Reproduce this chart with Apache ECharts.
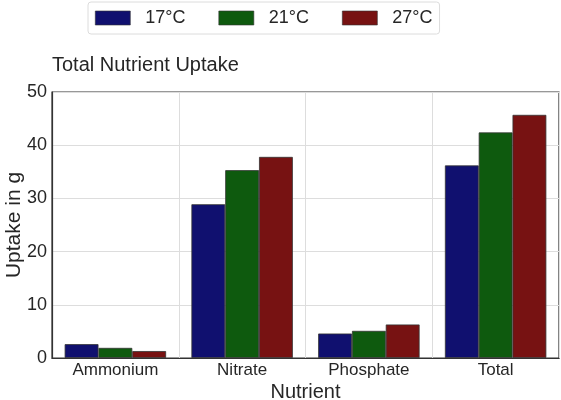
<!DOCTYPE html>
<html><head><meta charset="utf-8">
<script src="https://cdn.jsdelivr.net/npm/echarts@6/dist/echarts.min.js"></script>
<style>html,body{margin:0;padding:0;background:#fff}#c{width:561px;height:400px}</style>
</head><body><div id="c"></div>
<script>
var categories = ['Ammonium', 'Nitrate', 'Phosphate', 'Total'];
var seriesNames = ['17°C', '21°C', '27°C'];
var v17 = [2.6, 28.9, 4.6, 36.2];
var v21 = [1.9, 35.3, 5.1, 42.4];
var v27 = [1.3, 37.8, 6.3, 45.7];
var yTicks = [0, 10, 20, 30, 40, 50];
var colors = ['#10106f', '#0e5a0e', '#771212'];
var values = [v17, v21, v27];
var font = 'Liberation Sans, Arial, sans-serif';

var chart = echarts.init(document.getElementById('c'), null, {renderer: 'canvas'});
chart.setOption({
  animation: false,
  textStyle: {fontFamily: font},
  title: {text: 'Total Nutrient Uptake', left: 52, top: 55, padding: 0,
    textStyle: {fontFamily: font, fontSize: 20, fontWeight: 'normal', color: '#262626'}},
  legend: {
    top: 2, left: 88,
    data: seriesNames,
    icon: 'rect',
    itemWidth: 35, itemHeight: 14, itemGap: 33,
    padding: [7, 7, 7, 7],
    borderColor: '#dcdcdc', borderWidth: 1, borderRadius: 3,
    itemStyle: {borderColor: '#333', borderWidth: 0.6},
    textStyle: {fontFamily: font, fontSize: 18, color: '#262626', padding: [0, 0, 0, 10]}
  },
  grid: {left: 52, right: 2, top: 92, bottom: 42, containLabel: false, outerBoundsMode: 'none',
    show: true, borderColor: '#333', borderWidth: 1.2},
  xAxis: {
    type: 'category', data: categories,
    name: 'Nutrient', nameLocation: 'middle', nameGap: 24, nameMoveOverlap: false,
    nameTextStyle: {fontFamily: font, fontSize: 20, color: '#262626'},
    axisLine: {show: true, lineStyle: {color: '#333', width: 1.2}},
    axisTick: {show: false},
    axisLabel: {fontFamily: font, fontSize: 17, color: '#262626', margin: 4, interval: 0},
    splitLine: {show: true, interval: 0, lineStyle: {color: '#dddddd', width: 1}},
    boundaryGap: true
  },
  yAxis: {
    type: 'value', min: 0, max: 50, interval: 10,
    name: 'Uptake in g', nameLocation: 'middle', nameGap: 27, nameMoveOverlap: false,
    nameTextStyle: {fontFamily: font, fontSize: 21, color: '#262626'},
    axisLine: {show: true, lineStyle: {color: '#333', width: 1.2}},
    axisTick: {show: false},
    axisLabel: {fontFamily: font, fontSize: 18, color: '#262626', margin: 5,
      formatter: function (v) { return yTicks.indexOf(v) >= 0 ? String(v) : ''; }},
    splitLine: {show: true, lineStyle: {color: '#dddddd', width: 1}}
  },
  series: seriesNames.map(function (n, i) {
    return {
      name: n, type: 'bar', data: values[i],
      barGap: '0%', barCategoryGap: '20%',
      itemStyle: {color: colors[i], borderColor: '#333', borderWidth: 0.8}
    };
  })
});
</script></body></html>
